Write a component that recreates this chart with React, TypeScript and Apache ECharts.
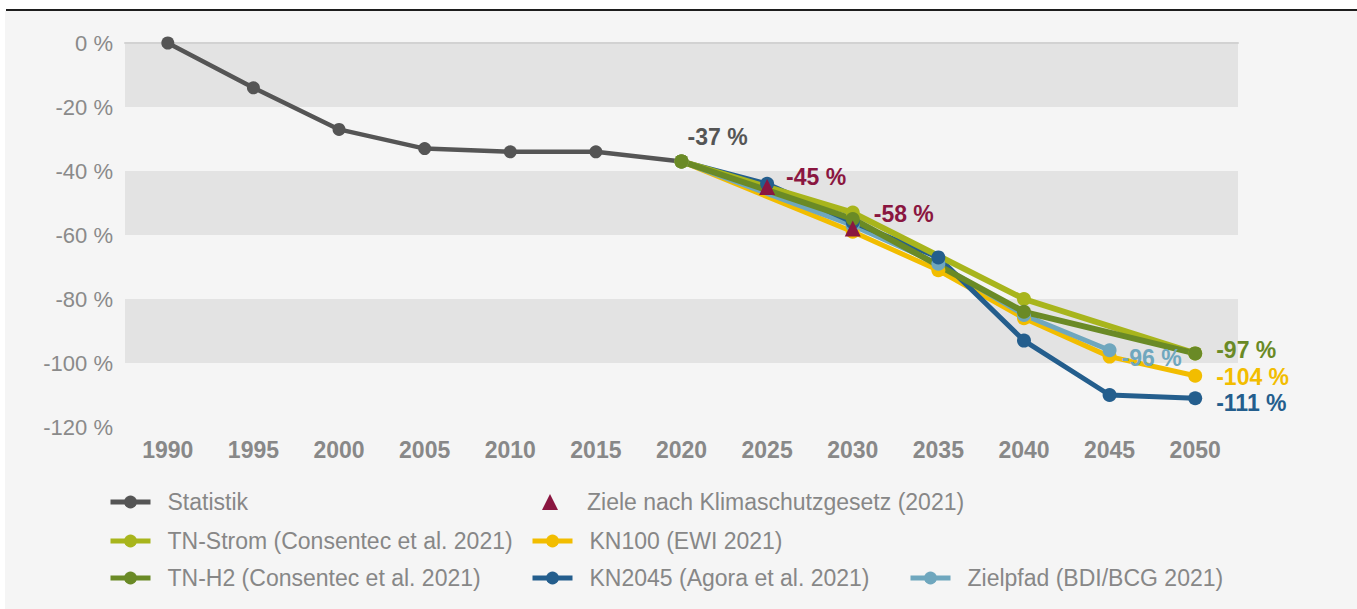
import React, { useEffect, useRef } from "react";
import * as echarts from "echarts";

const categories = ["1990", "1995", "2000", "2005", "2010", "2015", "2020", "2025", "2030", "2035", "2040", "2045", "2050"];
const statistik = [0, -14, -27, -33, -34, -34, -37, null, null, null, null, null, null];
const ziele = [null, null, null, null, null, null, null, -45, -58, null, null, null, null];
const tnStrom = [null, null, null, null, null, null, -37, null, -53, null, -80, null, -97];
const tnH2 = [null, null, null, null, null, null, -37, null, -55, null, -84, null, -97];
const kn100 = [null, null, null, null, null, null, -37, null, -59, -71, -86, -98, -104];
const kn2045 = [null, null, null, null, null, null, -37, -44, -56, -67, -93, -110, -111];
const zielpfad = [null, null, null, null, null, null, -37, null, -57, -69, -85, -96, null];
const yTicks = [0, -20, -40, -60, -80, -100, -120];

const FONT = "'Liberation Sans', Arial, sans-serif";
const C = {
  stat: "#555555",
  ziele: "#8a1640",
  tnStrom: "#a8b51c",
  tnH2: "#6a8a26",
  kn100: "#f2bd00",
  kn2045: "#245e8d",
  ziel: "#6fa7be",
};

function withLabels(arr: (number | null)[], labels: Record<number, any>) {
  return arr.map((v, i) => {
    if (labels[i] && v !== null) {
      return { value: v, label: { show: true, ...labels[i] } };
    }
    return v;
  });
}

const lblBase = { fontFamily: FONT, fontWeight: "bold", fontSize: 23, formatter: (p: any) => `${p.value} %` };

function lineSeries(name: string, data: any[], color: string, width: number, size: number) {
  return {
    name,
    type: "line",
    data,
    connectNulls: true,
    symbol: "circle",
    symbolSize: size,
    lineStyle: { color, width },
    itemStyle: { color, opacity: 1 },
    emphasis: { disabled: true },
  };
}

function legendAt(name: string, left: number, cy: number, opts: any = {}) {
  return {
    data: [name],
    left,
    top: cy - 13,
    padding: 0,
    itemWidth: opts.itemWidth ?? 40,
    itemHeight: opts.itemHeight ?? 16,
    selectedMode: false,
    lineStyle: { width: 5 },
    textStyle: {
      fontFamily: FONT,
      fontSize: 23,
      lineHeight: 26,
      color: "#878787",
      padding: [0, 0, 0, opts.pad ?? 12],
    },
  };
}

export default function App() {
  const ref = useRef<HTMLDivElement>(null);
  useEffect(() => {
    if (!ref.current) return;
    const chart = echarts.init(ref.current, null, { renderer: "svg" });
    chart.setOption({
      animation: false,
      backgroundColor: "transparent",
      grid: { left: 125, right: 119, top: 43, bottom: 182, containLabel: false },
      xAxis: {
        type: "category",
        data: categories,
        boundaryGap: true,
        axisLine: { show: true, lineStyle: { color: "#d2d2d2", width: 2 } },
        axisTick: { show: false },
        axisLabel: { fontFamily: FONT, fontSize: 23, fontWeight: "bold", color: "#888888", margin: 11 },
      },
      yAxis: {
        type: "value",
        min: yTicks[yTicks.length - 1],
        max: yTicks[0],
        interval: 20,
        axisLine: { show: false },
        axisTick: { show: false },
        splitLine: { show: false },
        splitArea: { show: true, areaStyle: { color: ["rgba(0,0,0,0)", "#e3e3e3"] } },
        axisLabel: { fontFamily: FONT, fontSize: 22, color: "#8a8a8a", margin: 12, formatter: (v: number) => `${v} %` },
      },
      legend: [
        legendAt("Statistik", 108, 502),
        legendAt("Ziele nach Klimaschutzgesetz (2021)", 542, 502, { itemWidth: 16, itemHeight: 16, pad: 24 }),
        legendAt("TN-Strom (Consentec et al. 2021)", 108, 541),
        legendAt("KN100 (EWI 2021)", 530, 541),
        legendAt("TN-H2 (Consentec et al. 2021)", 108, 578),
        legendAt("KN2045 (Agora et al. 2021)", 530, 578),
        legendAt("Zielpfad (BDI/BCG 2021)", 908, 578),
      ],
      series: [
        lineSeries(
          "Statistik",
          withLabels(statistik, { 6: { ...lblBase, color: C.stat, position: "top", align: "left", offset: [6, -1] } }),
          C.stat,
          4.5,
          13
        ),
        lineSeries(
          "KN100 (EWI 2021)",
          withLabels(kn100, { 12: { ...lblBase, color: C.kn100, position: "right", offset: [9, 1] } }),
          C.kn100,
          5,
          14
        ),
        lineSeries(
          "Zielpfad (BDI/BCG 2021)",
          withLabels(zielpfad, { 11: { ...lblBase, color: C.ziel, position: "right", offset: [0, 8] } }),
          C.ziel,
          5,
          14
        ),
        lineSeries(
          "KN2045 (Agora et al. 2021)",
          withLabels(kn2045, { 12: { ...lblBase, color: C.kn2045, position: "right", offset: [9, 5] } }),
          C.kn2045,
          5,
          14
        ),
        lineSeries("TN-Strom (Consentec et al. 2021)", tnStrom, C.tnStrom, 6, 14),
        lineSeries(
          "TN-H2 (Consentec et al. 2021)",
          withLabels(tnH2, { 12: { ...lblBase, color: C.tnH2, position: "right", offset: [9, -3] } }),
          C.tnH2,
          6,
          14
        ),
        {
          name: "Ziele nach Klimaschutzgesetz (2021)",
          type: "scatter",
          data: withLabels(ziele, {
            7: { ...lblBase, color: C.ziele, position: "right", offset: [6, -10] },
            8: { ...lblBase, color: C.ziele, position: "right", offset: [8, -15] },
          }),
          symbol: "triangle",
          symbolSize: 16,
          itemStyle: { color: C.ziele, opacity: 1 },
          emphasis: { disabled: true },
          z: 5,
        },
      ],
    });
    return () => chart.dispose();
  }, []);

  return (
    <div style={{ position: "fixed", left: 0, top: 0, width: 1357, height: 609, background: "#ffffff", overflow: "hidden" }}>
      <div style={{ position: "absolute", left: 5, top: 11, width: 1352, height: 598, background: "#f5f5f5" }} />
      <div style={{ position: "absolute", left: 6, top: 9, width: 1351, height: 2, background: "#1e1e1e" }} />
      <div ref={ref} style={{ position: "absolute", left: 0, top: 0, width: 1357, height: 609 }} />
    </div>
  );
}
